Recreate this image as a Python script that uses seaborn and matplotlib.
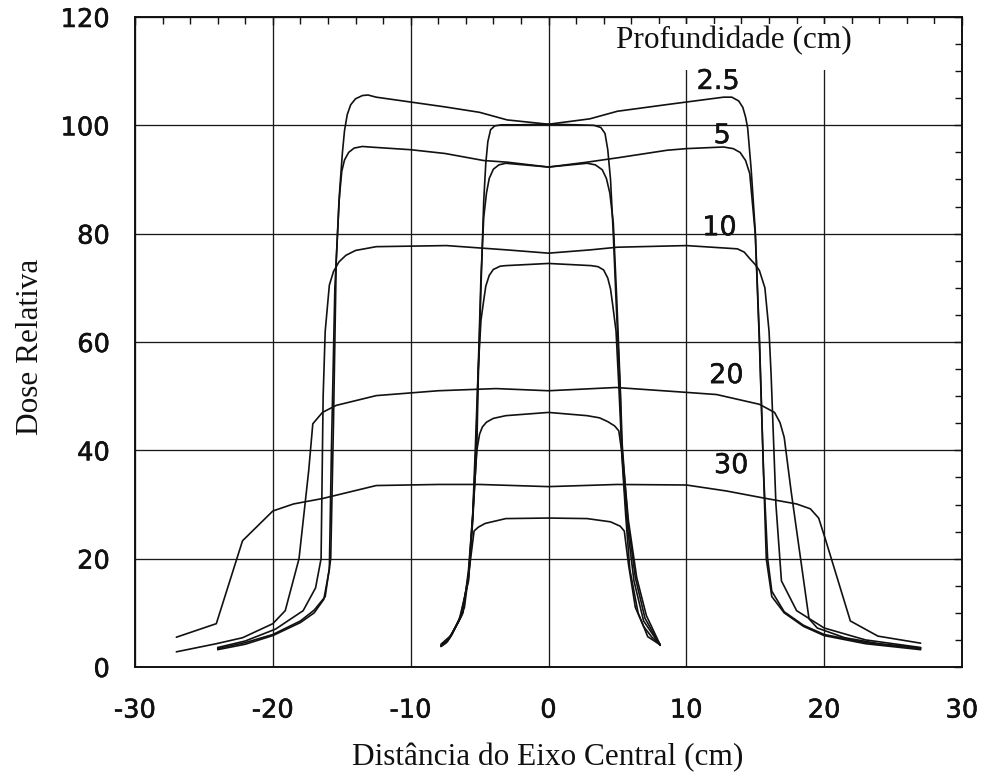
import matplotlib
matplotlib.use("Agg")
import matplotlib.pyplot as plt
from matplotlib.ticker import MultipleLocator, FuncFormatter
from matplotlib.patches import Rectangle
import matplotlib.patheffects as pe
import seaborn as sns
import pandas as pd

# ---------------- data ----------------
depth_labels = ["2.5", "5", "10", "20", "30"]

# large field
x_l25 = [-24.0, -22.0, -20.0, -18.0, -17.0, -16.3, -15.9, -15.75, -15.5, -15.15, -14.95, -14.8, -14.6, -14.35, -14.0, -13.5, -13.1, -12.5, -10.0, -7.5, -5.0, -3.0, 0.0, 3.0, 5.0, 8.5, 10.0, 12.7, 13.3, 13.8, 14.1, 14.3, 14.45, 14.7, 15.0, 15.3, 15.6, 15.8, 16.2, 17.1, 18.5, 20.0, 23.0, 27.0]
y_l25 = [3.2, 4.2, 5.8, 8.2, 10.0, 12.5, 18.0, 40.0, 70.0, 88.0, 95.0, 99.0, 102.0, 103.8, 104.9, 105.5, 105.6, 105.2, 104.3, 103.4, 102.4, 101.0, 100.2, 101.2, 102.6, 103.8, 104.3, 105.2, 105.2, 104.5, 103.3, 101.5, 99.5, 92.0, 80.5, 61.0, 36.0, 20.0, 13.0, 10.0, 7.5, 5.8, 4.3, 3.2]

x_l5 = [-24.0, -22.0, -20.0, -18.0, -17.0, -16.2, -15.8, -15.6, -15.4, -15.2, -15.0, -14.8, -14.5, -14.1, -13.5, -13.0, -10.0, -7.5, -4.7, -3.0, 0.0, 2.8, 5.0, 8.6, 10.0, 12.7, 13.4, 13.9, 14.3, 14.6, 15.0, 15.3, 15.6, 15.9, 16.2, 17.1, 18.5, 20.0, 23.0, 27.0]
y_l5 = [3.4, 4.5, 6.0, 8.5, 10.5, 13.0, 20.0, 45.0, 75.0, 86.0, 91.5, 93.6, 95.0, 95.8, 96.1, 96.0, 95.5, 94.8, 93.5, 93.2, 92.3, 93.2, 94.0, 95.4, 95.7, 96.0, 95.7, 95.0, 93.5, 91.1, 80.0, 60.0, 36.0, 20.0, 14.0, 10.2, 7.7, 6.0, 4.5, 3.4]

x_l10 = [-24.0, -22.0, -19.8, -17.8, -16.9, -16.5, -16.35, -16.2, -15.9, -15.6, -15.2, -14.7, -14.0, -12.5, -7.4, -3.0, 0.0, 3.0, 5.0, 10.0, 13.7, 14.2, 14.6, 15.0, 15.3, 15.7, 16.0, 16.15, 16.5, 16.9, 18.0, 20.0, 23.0, 27.0]
y_l10 = [3.6, 4.8, 7.0, 10.4, 14.6, 20.0, 50.0, 62.0, 70.5, 73.0, 74.8, 76.0, 76.9, 77.6, 77.8, 77.0, 76.4, 77.0, 77.5, 77.8, 77.2, 76.6, 75.4, 74.3, 73.2, 70.0, 62.0, 54.0, 30.0, 15.9, 10.4, 7.2, 5.0, 3.6]

x_l20 = [-27.0, -24.1, -22.2, -20.0, -19.1, -18.1, -17.4, -17.1, -16.4, -15.4, -12.5, -8.0, -3.8, 0.0, 4.9, 10.0, 12.2, 15.3, 16.4, 16.8, 17.1, 17.6, 18.9, 19.5, 21.5, 24.0, 27.0]
y_l20 = [2.8, 4.3, 5.4, 8.0, 10.4, 20.0, 36.2, 44.9, 47.0, 48.3, 50.1, 51.0, 51.4, 51.0, 51.6, 50.7, 50.3, 48.5, 47.0, 45.1, 42.4, 32.5, 8.9, 7.2, 5.4, 4.3, 3.5]

x_l30 = [-27.0, -24.1, -22.2, -20.0, -18.5, -16.4, -12.5, -8.0, -5.0, 0.0, 5.0, 10.0, 12.9, 15.6, 18.0, 19.0, 19.6, 20.1, 21.9, 23.9, 27.0]
y_l30 = [5.5, 8.0, 23.3, 28.8, 30.1, 31.1, 33.5, 33.7, 33.7, 33.3, 33.7, 33.6, 32.5, 31.2, 30.1, 29.2, 27.5, 23.5, 8.5, 5.7, 4.4]

# small field
x_s25 = [-7.8, -7.4, -6.5, -5.8, -5.5, -5.2, -5.1, -4.9, -4.7, -4.55, -4.4, -4.2, -3.9, -3.4, -2.0, 0.0, 2.0, 3.3, 3.8, 4.1, 4.3, 4.5, 4.7, 4.9, 5.2, 5.3, 5.7, 6.2, 6.9, 8.1]
y_s25 = [3.8, 4.5, 8.5, 15.9, 27.0, 40.5, 52.9, 70.0, 86.0, 93.0, 97.0, 99.2, 99.9, 100.1, 100.1, 100.2, 100.1, 100.0, 99.6, 98.5, 95.5, 90.0, 80.0, 67.7, 51.0, 40.5, 26.4, 15.9, 8.5, 4.0]

x_s5 = [-7.8, -7.3, -6.4, -5.8, -5.5, -5.25, -5.1, -4.9, -4.7, -4.5, -4.3, -4.0, -3.6, -3.1, 0.0, 2.8, 3.4, 3.9, 4.2, 4.45, 4.7, 4.95, 5.2, 5.35, 5.75, 6.3, 7.0, 8.1]
y_s5 = [3.8, 4.8, 9.0, 16.5, 27.5, 41.0, 55.0, 72.0, 83.0, 87.5, 90.2, 91.9, 92.7, 93.0, 92.3, 93.0, 92.7, 91.8, 90.2, 87.5, 82.0, 68.0, 52.0, 41.0, 27.0, 16.5, 9.0, 4.0]

x_s10 = [-7.8, -7.2, -6.3, -5.8, -5.5, -5.3, -5.1, -4.9, -4.7, -4.55, -4.3, -4.0, -3.5, -3.1, 0.0, 3.1, 3.6, 4.0, 4.3, 4.5, 4.65, 4.9, 5.1, 5.3, 5.8, 6.4, 7.1, 8.1]
y_s10 = [3.9, 5.2, 9.5, 17.0, 28.0, 41.0, 55.0, 64.0, 67.7, 70.3, 72.3, 73.4, 74.0, 74.1, 74.5, 74.1, 73.9, 73.3, 71.8, 69.8, 67.0, 62.0, 52.0, 41.0, 27.0, 16.5, 9.5, 4.1]

x_s20 = [-7.8, -7.1, -6.2, -5.8, -5.5, -5.2, -5.0, -4.8, -4.5, -4.0, -3.1, 0.0, 2.8, 3.7, 4.3, 4.8, 5.1, 5.3, 5.6, 5.9, 6.5, 7.2, 8.1]
y_s20 = [4.0, 5.6, 10.0, 18.0, 28.0, 40.0, 43.0, 44.3, 45.2, 45.9, 46.4, 47.0, 46.4, 46.0, 45.3, 44.5, 43.6, 40.0, 28.0, 18.0, 10.0, 5.6, 4.1]

x_s30 = [-7.8, -7.0, -6.1, -5.7, -5.4, -5.1, -4.6, -3.1, 0.0, 2.8, 4.5, 5.2, 5.5, 5.8, 6.3, 6.9, 7.5, 8.1]
y_s30 = [4.2, 6.0, 11.0, 19.0, 25.1, 25.8, 26.5, 27.4, 27.5, 27.4, 26.8, 26.0, 25.1, 19.0, 11.0, 7.5, 5.5, 4.2]

# label anchor positions (data coords)
label_x = [12.3, 12.6, 12.4, 12.9, 13.25]
label_y = [108.0, 98.0, 81.0, 53.7, 37.1]

x_ticks = [-30, -20, -10, 0, 10, 20, 30]
y_ticks = [0, 20, 40, 60, 80, 100, 120]

# ---------------- build table ----------------
curves = {
    "L2.5": (x_l25, y_l25), "L5": (x_l5, y_l5), "L10": (x_l10, y_l10),
    "L20": (x_l20, y_l20), "L30": (x_l30, y_l30),
    "S2.5": (x_s25, y_s25), "S5": (x_s5, y_s5), "S10": (x_s10, y_s10),
    "S20": (x_s20, y_s20), "S30": (x_s30, y_s30),
}
frames = []
for name, (xs, ys) in curves.items():
    frames.append(pd.DataFrame({"x": xs, "y": ys, "curve": name}))
df = pd.concat(frames, ignore_index=True)

# ---------------- plot ----------------
sns.set_style("white")
plt.rcParams["font.family"] = ["DejaVu Sans"]

fig = plt.figure(figsize=(9.89, 7.75), dpi=100)
ax = fig.add_axes([135 / 989, 1 - 667 / 775, (962 - 135) / 989, (667 - 17) / 775])

sns.lineplot(data=df, x="x", y="y", units="curve", estimator=None, sort=False,
             color="#111111", linewidth=1.2, ax=ax, legend=False, zorder=3)

ax.set_xlim(-30, 30)
ax.set_ylim(0, 120)
ax.xaxis.set_minor_locator(MultipleLocator(2))
ax.yaxis.set_minor_locator(MultipleLocator(5))
ax.set_xticks(x_ticks)
ax.set_yticks(y_ticks)
ax.xaxis.set_major_formatter(FuncFormatter(lambda v, p: f"{v:.0f}"))
ax.yaxis.set_major_formatter(FuncFormatter(lambda v, p: f"{v:.0f}"))

ax.set_axisbelow(True)
ax.grid(True, which="major", color="#1a1a1a", linewidth=0.95)
ax.grid(False, which="minor")

for s in ax.spines.values():
    s.set_visible(True)
    s.set_color("#111111")
    s.set_linewidth(1.4)

ax.tick_params(which="both", direction="in", top=True, right=True, color="#111111")
ax.tick_params(which="major", length=6, width=1.0)
ax.tick_params(which="minor", length=5, width=1.0)
ax.tick_params(axis="x", which="major", pad=22, labelsize=18.5, labelcolor="#111111")
ax.tick_params(axis="y", which="major", pad=18, labelsize=18.5, labelcolor="#111111")
semibold = [pe.withStroke(linewidth=0.4, foreground="#111111")]
for t in ax.get_xticklabels() + ax.get_yticklabels():
    t.set_path_effects(semibold)

serif = ["Liberation Serif", "DejaVu Serif"]
ax.set_xlabel("Distância do Eixo Central (cm)", fontsize=22.5, family=serif, color="#111111")
ax.set_ylabel("Dose Relativa", fontsize=22.5, family=serif, color="#111111")
ax.xaxis.set_label_coords(0.499, -0.117)
ax.yaxis.set_label_coords(-0.109, 0.492)

# white box behind the legend title (covers the grid there)
ax.add_patch(Rectangle((6.6, 110.2), 22.2, 8.5, facecolor="white", edgecolor="none", zorder=0.8))
ax.text(13.46, 115.6, "Profundidade (cm)", fontsize=22.5, family=serif,
        ha="center", va="center", color="#111111", zorder=4)

for lab, lx, ly in zip(depth_labels, label_x, label_y):
    ax.text(lx, ly, lab, fontsize=19.5, ha="center", va="center", color="#111111", zorder=4,
            path_effects=[pe.withStroke(linewidth=0.3, foreground="#111111")])

fig.savefig("out.png", dpi=100, facecolor="white")
